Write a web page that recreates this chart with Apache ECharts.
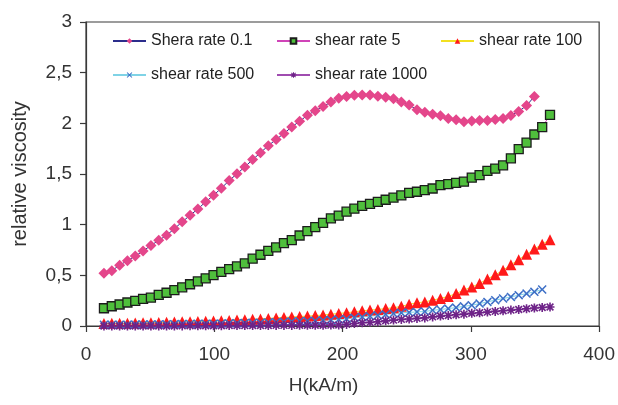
<!DOCTYPE html>
<html>
<head>
<meta charset="utf-8">
<script src="https://cdn.jsdelivr.net/npm/echarts@6/dist/echarts.min.js"></script>
<style>
  html, body { margin: 0; padding: 0; background: #ffffff; }
  #chart { width: 618px; height: 405px; }
</style>
</head>
<body>
<div id="chart"></div>
<script>
// Magnetic field strength H (kA/m) at each measurement step
const H = [14, 20.1, 26.2, 32.3, 38.4, 44.5, 50.6, 56.7, 62.8, 68.9,
  75, 81.1, 87.2, 93.3, 99.4, 105.5, 111.6, 117.7, 123.8, 129.9,
  136, 142.1, 148.2, 154.3, 160.4, 166.5, 172.6, 178.7, 184.8, 190.9,
  197, 203.1, 209.2, 215.3, 221.4, 227.5, 233.6, 239.7, 245.8, 251.9,
  258, 264.1, 270.2, 276.3, 282.4, 288.5, 294.6, 300.7, 306.8, 312.9,
  319, 325.1, 331.2, 337.3, 343.4, 349.5, 355.6, 361.7];

// Relative viscosity for each shear rate
const rate01 = [0.52, 0.546, 0.6, 0.645, 0.69, 0.74, 0.795, 0.845, 0.895, 0.96,
  1.028, 1.092, 1.155, 1.225, 1.29, 1.36, 1.435, 1.502, 1.57, 1.642,
  1.71, 1.78, 1.84, 1.9, 1.965, 2.02, 2.08, 2.125, 2.165, 2.21,
  2.248, 2.266, 2.278, 2.28, 2.28, 2.268, 2.258, 2.243, 2.21, 2.18,
  2.135, 2.11, 2.09, 2.076, 2.048, 2.035, 2.015, 2.022, 2.027, 2.027,
  2.038, 2.048, 2.078, 2.118, 2.175, 2.265];

const rate5 = [0.175, 0.195, 0.212, 0.232, 0.247, 0.268, 0.28, 0.308, 0.328, 0.355,
  0.382, 0.412, 0.44, 0.47, 0.503, 0.535, 0.562, 0.588, 0.618, 0.665,
  0.703, 0.742, 0.775, 0.818, 0.848, 0.893, 0.937, 0.976, 1.018, 1.062,
  1.09, 1.128, 1.158, 1.185, 1.206, 1.224, 1.246, 1.267, 1.289, 1.313,
  1.325, 1.34, 1.357, 1.39, 1.401, 1.413, 1.424, 1.464, 1.489, 1.53,
  1.553, 1.585, 1.655, 1.745, 1.81, 1.89, 1.963, 2.083];

const rate100 = [0.025, 0.026, 0.027, 0.028, 0.03, 0.031, 0.033, 0.035, 0.037, 0.039,
  0.041, 0.043, 0.045, 0.047, 0.049, 0.052, 0.055, 0.058, 0.062, 0.066,
  0.07, 0.075, 0.08, 0.085, 0.089, 0.094, 0.098, 0.103, 0.108, 0.116,
  0.124, 0.131, 0.14, 0.15, 0.157, 0.163, 0.172, 0.18, 0.194, 0.214,
  0.229, 0.238, 0.255, 0.272, 0.292, 0.32, 0.355, 0.385, 0.42, 0.464,
  0.505, 0.55, 0.604, 0.655, 0.707, 0.76, 0.807, 0.852];

const rate500 = [0.012, 0.012, 0.013, 0.013, 0.014, 0.015, 0.015, 0.016, 0.017, 0.018,
  0.019, 0.02, 0.021, 0.022, 0.023, 0.024, 0.026, 0.027, 0.029, 0.031,
  0.033, 0.035, 0.038, 0.041, 0.044, 0.047, 0.05, 0.053, 0.056, 0.06,
  0.064, 0.07, 0.082, 0.09, 0.097, 0.105, 0.114, 0.123, 0.13, 0.134,
  0.139, 0.143, 0.155, 0.163, 0.172, 0.182, 0.194, 0.205, 0.221, 0.238,
  0.255, 0.271, 0.287, 0.304, 0.32, 0.337, 0.36];

const rate1000 = [0, 0, 0, 0, 0, 0, 0, 0, 0, 0,
  0.001, 0.002, 0.002, 0.003, 0.003, 0.003, 0.004, 0.004, 0.004, 0.005,
  0.005, 0.005, 0.006, 0.006, 0.006, 0.007, 0.007, 0.008, 0.008, 0.009,
  0.01, 0.016, 0.025, 0.032, 0.036, 0.042, 0.051, 0.058, 0.065, 0.069,
  0.075, 0.08, 0.09, 0.098, 0.104, 0.111, 0.117, 0.125, 0.131, 0.137,
  0.144, 0.15, 0.157, 0.163, 0.17, 0.177, 0.183, 0.188];

const seriesNames = ['Shera rate 0.1', 'shear rate 5', 'shear rate 100', 'shear rate 500', 'shear rate 1000'];
const yTickLabels = ['0', '0,5', '1', '1,5', '2', '2,5', '3'];
const xTickLabels = ['0', '100', '200', '300', '400'];

const FONT = "'Liberation Sans', Arial, sans-serif";

// Marker shapes not built into ECharts: a cross and an asterisk
const CROSS = 'path://M0,1.2L1.2,0L5,3.8L8.8,0L10,1.2L6.2,5L10,8.8L8.8,10L5,6.2L1.2,10L0,8.8L3.8,5Z';
const ASTERISK = 'path://M4.1,0H5.9V10H4.1Z M0,4.1H10V5.9H0Z M0.6,1.9L1.9,0.6L9.4,8.1L8.1,9.4Z M8.1,0.6L9.4,1.9L1.9,9.4L0.6,8.1Z';

function pairs(values) {
  return values.map((v, i) => [H[i], v]);
}

function makeSeries(name, values, lineColor, symbol, size, itemStyle) {
  return {
    name: name,
    type: 'line',
    data: pairs(values),
    symbol: symbol,
    symbolSize: size,
    showAllSymbol: true,
    clip: false,
    lineStyle: { color: lineColor, width: 1 },
    itemStyle: itemStyle,
    emphasis: { disabled: true },
    animation: false
  };
}

const chart = echarts.init(document.getElementById('chart'), null, { renderer: 'canvas' });

chart.setOption({
  backgroundColor: '#ffffff',
  animation: false,
  grid: {
    left: 86, right: 18, top: 22, bottom: 79,
    show: true, borderColor: '#3a3a3a', borderWidth: 1.2,
    containLabel: false
  },
  legend: {
    left: 112, top: 24, width: 500,
    padding: 0,
    itemWidth: 33, itemHeight: 7, itemGap: 0,
    data: seriesNames,
    textStyle: { fontFamily: FONT, fontSize: 16, color: '#222', width: 125, lineHeight: 34 }
  },
  xAxis: {
    type: 'value',
    min: 0, max: 400, interval: 100,
    name: 'H(kA/m)',
    nameLocation: 'middle',
    nameGap: 50,
    nameTextStyle: { fontFamily: FONT, fontSize: 19, color: '#333', padding: [0, 38, 0, 0] },
    axisLine: { show: true, lineStyle: { color: '#3a3a3a', width: 1.2 } },
    axisTick: { show: true, inside: false, length: 6, lineStyle: { color: '#3a3a3a', width: 1.2 } },
    axisLabel: {
      fontFamily: FONT, fontSize: 19, color: '#333', margin: 19,
      formatter: (v) => xTickLabels[Math.round(v / 100)]
    },
    splitLine: { show: false }
  },
  yAxis: {
    type: 'value',
    min: 0, max: 3, interval: 0.5,
    name: 'relative viscosity',
    nameLocation: 'middle',
    nameGap: 56,
    nameTextStyle: { fontFamily: FONT, fontSize: 20, color: '#333' },
    axisLine: { show: true, lineStyle: { color: '#3a3a3a', width: 1.2 } },
    axisTick: { show: true, inside: false, length: 6, lineStyle: { color: '#3a3a3a', width: 1.2 } },
    axisLabel: {
      fontFamily: FONT, fontSize: 19, color: '#333', margin: 14,
      formatter: (v) => yTickLabels[Math.round(v / 0.5)]
    },
    splitLine: { show: false }
  },
  series: [
    makeSeries(seriesNames[0], rate01, '#2b2d8c', 'diamond', [11, 11],
      { color: '#e4468b', borderWidth: 0 }),
    makeSeries(seriesNames[1], rate5, '#d044b8', 'rect', [9, 9],
      { color: '#4fbf3c', borderColor: '#1c1c1c', borderWidth: 1.3 }),
    makeSeries(seriesNames[2], rate100, '#f2e020', 'triangle', [11, 11],
      { color: '#ff1a1a', borderWidth: 0 }),
    makeSeries(seriesNames[3], rate500, '#7fd3e6', CROSS, [9, 9],
      { color: '#3d6fc6', borderWidth: 0 }),
    makeSeries(seriesNames[4], rate1000, '#a04cb0', ASTERISK, [9, 9],
      { color: '#6e2388', borderWidth: 0 })
  ]
});
</script>
</body>
</html>
